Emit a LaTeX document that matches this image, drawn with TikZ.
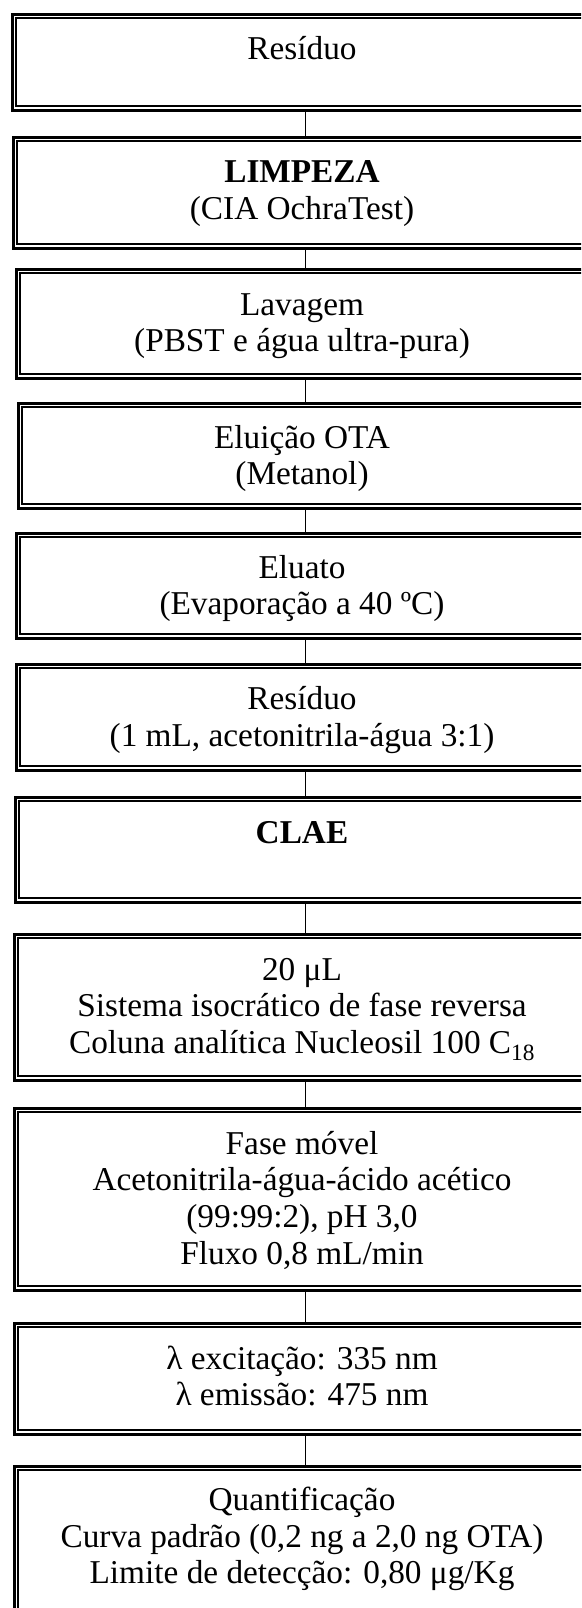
\documentclass[tikz,border=0pt]{standalone}
\usepackage{fontspec}
\setmainfont{Liberation Serif}
\tikzset{
  x=1pt, y=1pt,
  boxouter/.style={draw, line width=2.4pt, rectangle, inner sep=0pt, anchor=north west},
  boxinner/.style={line width=1.9pt},
  boxtext/.style={anchor=base, inner sep=0pt, font=\fontsize{33.3}{36.7}\selectfont},
  link/.style={line width=1.4pt},
}
% name, left, top, bottom, first-baseline offset, text
\newcommand\flowbox[6]{%
  \node[boxouter, minimum width={(604-2*#2)*1pt}, minimum height={(#4-#3)*1pt}] (#1) at (#2+1.2,-#3-1.2) {};
  \draw[boxinner] ([shift={(5.2,-5.2)}]#1.north west) rectangle ([shift={(-5.2,5.2)}]#1.south east);
  \node[boxtext] (#1t) at (302,-#3-#5) {\begin{tabular}[t]{@{}c@{}}#6\end{tabular}};
}
\begin{document}
\begin{tikzpicture}
\useasboundingbox (0,0) rectangle (581,-1608);
\clip (0,0) rectangle (581,-1608);
\fill[white] (0,0) rectangle (581,-1608);
\flowbox{b1}{10}{12}{108}{47.5}{Resíduo}
\flowbox{b2}{11}{135}{246}{48}{\textbf{LIMPEZA}\\(CIA OchraTest)}
\flowbox{b3}{14}{267}{376}{48}{Lavagem\\(PBST e água ultra-pura)}
\flowbox{b4}{16}{401}{506}{47}{Eluição OTA\\(Metanol)}
\flowbox{b5}{14}{531}{636}{47}{Eluato\\(Evaporação a 40 ºC)}
\flowbox{b6}{14}{662}{768}{47.5}{Resíduo\\(1 mL, acetonitrila-água 3:1)}
\flowbox{b7}{13}{795}{900}{48}{\textbf{CLAE}}
\flowbox{b8}{12}{932}{1078}{48}{20 μL\\Sistema isocrático de fase reversa\\Coluna analítica Nucleosil 100 C\textsubscript{18}}
\flowbox{b9}{12}{1106}{1288}{48}{Fase móvel\\Acetonitrila-água-ácido acético\\(99:99:2), pH 3,0\\Fluxo 0,8 mL/min}
\flowbox{b10}{12}{1321}{1432}{48}{λ excitação: 335 nm\\λ emissão: 475 nm}
\flowbox{b11}{12}{1464}{1630}{46.5}{Quantificação\\Curva padrão (0,2 ng a 2,0 ng OTA)\\Limite de detecção: 0,80 μg/Kg}
\foreach \a/\b in {b1/b2,b2/b3,b3/b4,b4/b5,b5/b6,b6/b7,b7/b8,b8/b9,b9/b10,b10/b11}
  \draw[link] ([xshift=1pt]\a.south) -- ([xshift=1pt]\b.north);
\end{tikzpicture}
\end{document}
